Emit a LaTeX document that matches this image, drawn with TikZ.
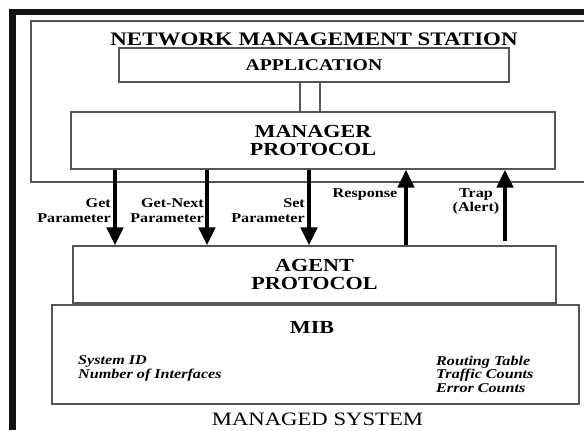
\documentclass[tikz,border=0pt]{standalone}
\usepackage{fontspec}
\setmainfont[FakeStretch=1.2]{Liberation Serif}
\usetikzlibrary{arrows.meta}
\definecolor{boxgray}{HTML}{555555}
\begin{document}
\begin{tikzpicture}[x=1bp,y=-1bp,
  box/.style={draw=boxgray, line width=1.2bp, inner sep=0pt, align=center},
  bigarrow/.style={line width=4.6bp, -{Triangle[width=16bp,length=18bp]}},
  capt/.style={font=\bfseries\fontsize{18.5}{18}\selectfont},
  lbl/.style={font=\bfseries\fontsize{13.5}{14.5}\selectfont, inner sep=0pt},
  mibitem/.style={font=\bfseries\itshape\fontsize{13.5}{13.6}\selectfont, inner sep=0pt, align=left}]
\useasboundingbox (0,0) rectangle (584,430);
\clip (0,0) rectangle (584,430);
% frame bars
\fill[black!92] (9,9) rectangle (584,15);
\fill[black!92] (9,9) rectangle (16,430);
% network management station
\draw[boxgray, line width=1.2bp] (600,21) -- (31,21) -- (31,182) -- (600,182);
\node[inner sep=0pt, font=\bfseries\fontsize{19.2}{20}\selectfont] (nms) at (314,39) {NETWORK MANAGEMENT STATION};
\node[box, minimum width=390bp, minimum height=34bp, font=\bfseries\fontsize{16.5}{17}\selectfont] (app) at (314,65) {APPLICATION};
\node[box, capt, minimum width=484bp, minimum height=57bp] (mgr) at (313,140.5) {MANAGER\\PROTOCOL};
% double link
\coordinate (d1) at (300,0);
\coordinate (d2) at (320,0);
\draw[boxgray, line width=1.1bp] (app.south -| d1) -- (mgr.north -| d1);
\draw[boxgray, line width=1.1bp] (app.south -| d2) -- (mgr.north -| d2);
% agent and MIB
\node[box, capt, minimum width=483bp, minimum height=57bp] (agent) at (314.5,274.5) {AGENT\\PROTOCOL};
\node[box, minimum width=527bp, minimum height=99bp] (mib) at (315.5,354.5) {};
\node[capt, inner sep=0pt] (mibt) at (312,327) {MIB};
\node[mibitem, anchor=north west] (mibl) at (78,355.5) {System ID\\Number of Interfaces};
\node[mibitem, anchor=north west] (mibr) at (436,355.5) {Routing Table\\Traffic Counts\\Error Counts};
\node[inner sep=0pt, font=\fontsize{19}{20}\selectfont] (ms) at (317.5,419) {MANAGED SYSTEM};
% arrows
\coordinate (a1) at (115,0);
\coordinate (a2) at (207,0);
\coordinate (a3) at (309,0);
\coordinate (a4) at (406,0);
\coordinate (a5) at (505,0);
\draw[bigarrow] (mgr.south -| a1) -- (agent.north -| a1);
\draw[bigarrow] (mgr.south -| a2) -- (agent.north -| a2);
\draw[bigarrow] (mgr.south -| a3) -- (agent.north -| a3);
\draw[bigarrow] (agent.north -| a4) -- (mgr.south -| a4);
\draw[bigarrow, shorten <=4bp] (agent.north -| a5) -- (mgr.south -| a5);
% labels
\node[lbl, anchor=east, align=right] (l1) at (111,210.5) {Get\\Parameter};
\node[lbl, anchor=east, align=right] (l2) at (204,210.5) {Get-Next\\Parameter};
\node[lbl, anchor=east, align=right] (l3) at (305,210.5) {Set\\Parameter};
\node[lbl] (l4) at (365,195) {Response};
\node[lbl, align=center] (l5) at (476,201.5) {Trap\\(Alert)};
\end{tikzpicture}
\end{document}
